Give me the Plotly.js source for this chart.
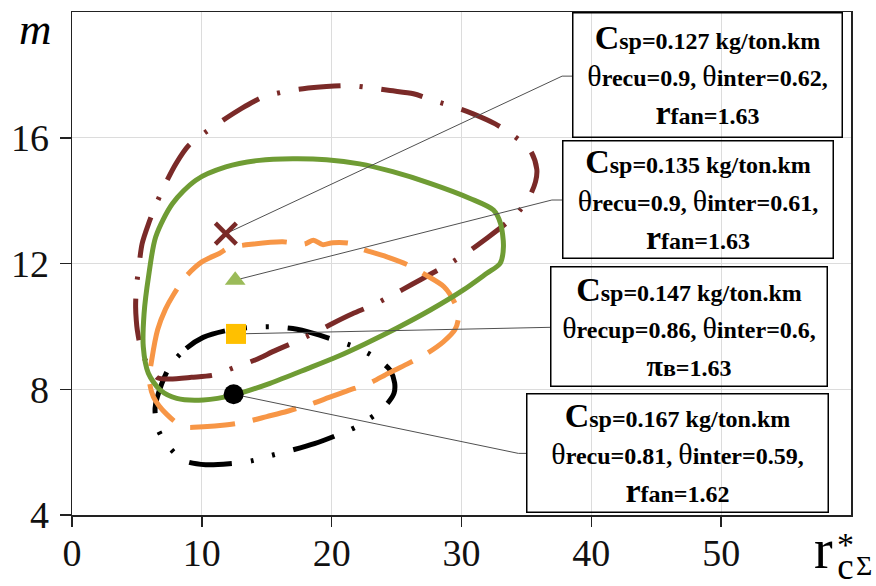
<!DOCTYPE html>
<html>
<head>
<meta charset="utf-8">
<script src="https://cdn.plot.ly/plotly-3.0.1.min.js"></script>
<style>html,body{margin:0;padding:0;background:#fff;}#chart{width:876px;height:586px;}</style>
</head>
<body>
<div id="chart"></div>
<script>
// ---- data ----
const redX = [6.6, 7.55, 9.2, 10.9, 12.5, 14.1, 15.6, 17.2, 18.7, 20.1, 21.6, 23.2, 24.7, 26.2, 27.7, 29.1, 30.5, 31.9, 33.2, 34.4, 35.2, 35.7, 35.8, 35.3, 34.0, 32.6, 30.9, 29.3, 27.8, 26.3, 24.5, 22.8, 21.4, 19.6, 17.8, 16.2, 14.7, 13.0, 11.6, 10.2, 9.0, 8.0, 7.2, 6.5, 5.9, 5.4, 5.15, 4.95, 4.9, 4.95, 5.03, 5.4, 5.9, 6.6];
const redY = [8.36, 8.33, 8.38, 8.45, 8.69, 8.93, 9.22, 9.51, 9.8, 10.1, 10.4, 10.68, 11.0, 11.34, 11.68, 12.0, 12.37, 12.79, 13.2, 13.65, 14.1, 14.6, 15.0, 15.6, 16.07, 16.44, 16.76, 17.0, 17.19, 17.4, 17.5, 17.6, 17.66, 17.63, 17.56, 17.45, 17.29, 16.92, 16.55, 16.15, 15.76, 15.17, 14.54, 13.9, 13.27, 12.63, 11.89, 11.2, 10.62, 10.2, 9.88, 9.14, 8.75, 8.36];

const greenX = [12.5, 15.25, 18.1, 20.5, 22.6, 25.0, 27.6, 30.15, 31.95, 32.97, 33.23, 33.0, 32.46, 30.66, 27.58, 24.7, 22.15, 19.6, 17.0, 14.43, 11.85, 9.54, 7.73, 6.45, 5.9, 5.55, 5.49, 5.88, 6.78, 8.07, 10.12, 12.5];
const greenY = [7.82, 8.19, 8.65, 9.05, 9.45, 9.94, 10.52, 11.16, 11.69, 12.0, 12.54, 13.28, 13.7, 14.07, 14.55, 14.92, 15.17, 15.3, 15.33, 15.28, 15.07, 14.65, 13.9, 12.85, 11.6, 10.4, 9.35, 8.51, 7.98, 7.71, 7.66, 7.82];

const orangeX = [6.14, 6.6, 7.2, 7.8, 8.76, 10.0, 11.34, 12.11, 14.0, 16.23, 17.9, 18.6, 19.3, 20.09, 21.38, 22.19, 24.2, 25.9, 27.3, 28.65, 29.5, 29.77, 29.5, 28.6, 27.33, 25.8, 24.37, 22.83, 21.2, 19.8, 18.34, 16.6, 15.0, 13.46, 11.8, 10.12, 8.57, 7.3, 6.27, 5.95, 6.14];
const orangeY = [8.93, 9.9, 10.55, 11.0, 11.58, 12.05, 12.32, 12.5, 12.62, 12.69, 12.62, 12.74, 12.6, 12.66, 12.64, 12.48, 12.22, 11.95, 11.62, 11.26, 10.73, 10.31, 9.9, 9.51, 9.14, 8.8, 8.51, 8.18, 7.95, 7.74, 7.52, 7.3, 7.13, 6.97, 6.86, 6.81, 6.81, 7.2, 7.76, 8.3, 8.93];

const blackX = [7.6, 8.8, 10.1, 11.8, 13.6, 15.25, 17.0, 18.6, 20.2, 21.8, 23.0, 23.9, 24.5, 24.85, 24.8, 24.4, 23.7, 22.0, 20.35, 18.67, 17.0, 15.4, 13.8, 12.1, 10.3, 8.7, 7.6, 6.65, 6.4, 6.9, 7.6];
const blackY = [8.77, 9.3, 9.65, 9.86, 9.96, 9.99, 9.93, 9.78, 9.57, 9.35, 9.1, 8.85, 8.61, 8.2, 7.87, 7.6, 7.3, 6.83, 6.53, 6.27, 6.07, 5.9, 5.72, 5.63, 5.6, 5.72, 6.1, 6.7, 7.4, 8.16, 8.77];

// optimum points
const optX = [11.85, 12.57, 12.63, 12.45];
const optY = [12.95, 11.47, 9.76, 7.84];

// leader lines (optimum point -> label box)
const lead1X = [11.85, 37.75, 38.52], lead1Y = [12.95, 17.96, 17.96];
const lead2X = [12.57, 36.96, 37.75], lead2Y = [11.47, 14.02, 14.02];
const lead3X = [12.63, 36.83], lead3Y = [9.76, 9.97];
const lead4X = [12.45, 34.38, 35.05], lead4Y = [7.84, 5.96, 5.96];

const xTicks = [0, 10, 20, 30, 40, 50];
const yTicks = [4, 8, 12, 16];

const csp = ['0.127', '0.135', '0.147', '0.167'];
const thRecuName = ['recu', 'recu', 'recup', 'recu'];
const thRecu = ['0.9', '0.9', '0.86', '0.81'];
const thInter = ['0.62', '0.61', '0.6', '0.59'];
const fanSym = ['r', 'r', 'π', 'r'];
const fanSub = ['fan', 'fan', 'в', 'fan'];
const fanVal = ['1.63', '1.63', '1.63', '1.62'];

// ---- styling ----
const RED = '#7a2a28', GREEN = '#6f9c34', ORANGE = '#f79646', BLACK = '#000000';
const FONT = 'Liberation Serif';

function loop(x, y, color, dash) {
  return {x: x, y: y, mode: 'lines', type: 'scatter', hoverinfo: 'skip',
    line: {color: color, width: 5, dash: dash, shape: 'spline', smoothing: 0.8}};
}
function lead(x, y) {
  return {x: x, y: y, mode: 'lines', type: 'scatter', hoverinfo: 'skip',
    line: {color: '#505050', width: 1}};
}

const traces = [
  loop(blackX, blackY, BLACK, '43px,19px,3px,19px,3px,19px'),
  loop(redX, redY, RED, '42px,19px,3px,19px'),
  loop(orangeX, orangeY, ORANGE, '45px,18px'),
  loop(greenX, greenY, GREEN, 'solid'),
  lead(lead1X, lead1Y), lead(lead2X, lead2Y), lead(lead3X, lead3Y), lead(lead4X, lead4Y),
  {x: [optX[0]], y: [optY[0]], mode: 'markers', type: 'scatter', hoverinfo: 'skip',
    marker: {symbol: 'x-thin', size: 21, color: RED, line: {color: RED, width: 4.5}}},
  {x: [optX[1]], y: [optY[1]], mode: 'markers', type: 'scatter', hoverinfo: 'skip',
    marker: {symbol: 'triangle-up', size: 18, color: '#9bbb59', line: {width: 0}}},
  {x: [optX[2]], y: [optY[2]], mode: 'markers', type: 'scatter', hoverinfo: 'skip',
    marker: {symbol: 'square', size: 20, color: '#ffc000', line: {width: 0}}},
  {x: [optX[3]], y: [optY[3]], mode: 'markers', type: 'scatter', hoverinfo: 'skip',
    marker: {symbol: 'circle', size: 20, color: BLACK, line: {width: 0}}},
  // empty trace so the overlaid tick-mark axis is drawn
  {x: [], y: [], xaxis: 'x2', yaxis: 'y', mode: 'markers', type: 'scatter', hoverinfo: 'skip'}
];

// box geometry in paper units (plot area 72..851 x 12..515 px)
const boxCX = [0.8152, 0.8030, 0.7914, 0.7779];
const boxCY = [0.8757, 0.6282, 0.3757, 0.1223];
const boxW = [268, 269, 275, 300];
const boxH = [123, 116, 118, 117];

function sp(size, t) { return '<span style="font-size:' + size + 'px">' + t + '</span>'; }
const annotations = [];
for (let i = 0; i < 4; i++) {
  const l1 = '<b>' + sp(34, 'C') + sp(24, 'sp=' + csp[i] + ' kg/ton.km') + '</b>';
  const l2 = sp(30, 'θ') + '<b>' + sp(24, thRecuName[i] + '=' + thRecu[i] + ', ') + '</b>' +
             sp(30, 'θ') + '<b>' + sp(24, 'inter=' + thInter[i] + ',') + '</b>';
  const l3 = '<b>' + sp(fanSym[i] === 'π' ? 30 : 34, fanSym[i]) + sp(24, fanSub[i] + '=' + fanVal[i]) + '</b>';
  annotations.push({
    xref: 'paper', yref: 'paper', x: boxCX[i], y: boxCY[i], xanchor: 'center', yanchor: 'middle',
    showarrow: false, text: l1 + '<br>' + l2 + '<br>' + l3, align: 'center', valign: 'middle',
    width: boxW[i], height: boxH[i], borderpad: 0, bordercolor: '#000000', borderwidth: 1.5,
    bgcolor: 'rgba(0,0,0,0)', font: {family: FONT, size: 29, color: '#000'}
  });
}
// axis titles (plot area: x 72..851 px, y 12..515 px)
annotations.push({xref: 'paper', yref: 'paper', x: -0.047, y: (515 - 29) / 503, xanchor: 'center', yanchor: 'middle',
  showarrow: false, borderpad: 0, text: '<i>m</i>', font: {family: FONT, size: 45, color: '#000'}});
annotations.push({xref: 'paper', yref: 'paper', x: (834 - 72) / 779, y: (515 - 549) / 503, xanchor: 'right', yanchor: 'middle',
  showarrow: false, borderpad: 0, text: 'r', font: {family: FONT, size: 56, color: '#000'}});
annotations.push({xref: 'paper', yref: 'paper', x: (836 - 72) / 779, y: (515 - 556) / 503, xanchor: 'left', yanchor: 'middle',
  showarrow: false, borderpad: 0, text: '<span style="font-size:34px">*</span><br><span style="font-size:37px">c</span>',
  font: {family: FONT, size: 18, color: '#000'}});
annotations.push({xref: 'paper', yref: 'paper', x: (855 - 72) / 779, y: (515 - 565) / 503, xanchor: 'left', yanchor: 'middle',
  showarrow: false, borderpad: 0, text: 'Σ', font: {family: FONT, size: 28, color: '#000'}});

const axisCommon = {
  showline: true, mirror: true, linecolor: '#222', linewidth: 1.5,
  showgrid: true, gridcolor: '#dcdcdc', gridwidth: 1, zeroline: false,
  ticks: 'outside', ticklen: 11, tickwidth: 1.5, tickcolor: '#222',
  tickfont: {family: FONT, size: 38, color: '#111'}
};

const layout = {
  width: 876, height: 586,
  margin: {l: 72, r: 25, t: 12, b: 71, pad: 0},
  paper_bgcolor: '#ffffff', plot_bgcolor: '#ffffff',
  showlegend: false,
  xaxis: Object.assign({}, axisCommon, {range: [0, 60], tickmode: 'array', tickvals: xTicks,
    ticktext: xTicks.map(String), ticklen: 4, tickcolor: 'rgba(0,0,0,0)'}),
  xaxis2: {overlaying: 'x', anchor: 'y', side: 'bottom', range: [0, 60], tickmode: 'array', tickvals: xTicks,
    ticks: 'outside', ticklen: 11, tickwidth: 1.5, tickcolor: '#222', showticklabels: false,
    showgrid: false, showline: false, zeroline: false},
  yaxis: Object.assign({}, axisCommon, {range: [4, 20], tickmode: 'array', tickvals: yTicks,
    ticktext: yTicks.map(String), ticklabelstandoff: 3}),
  annotations: annotations
};

Plotly.newPlot('chart', traces, layout, {displayModeBar: false, staticPlot: true});
</script>
</body>
</html>
